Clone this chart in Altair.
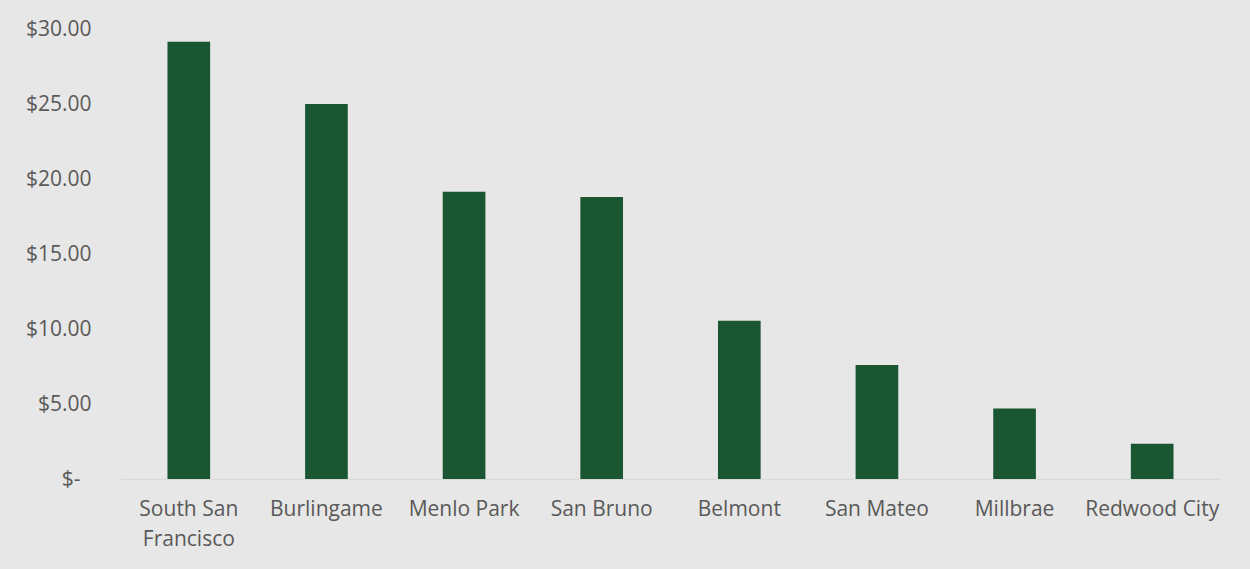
import altair as alt
import pandas as pd

cities = ["South San Francisco", "Burlingame", "Menlo Park", "San Bruno",
          "Belmont", "San Mateo", "Millbrae", "Redwood City"]
values = [29.15, 25.0, 19.15, 18.8, 10.55, 7.6, 4.7, 2.35]

df = pd.DataFrame({"city": cities, "value": values})

FONT = "Open Sans"
TXT = "#595959"

chart = alt.Chart(df).mark_bar(color="#1b5632").encode(
    x=alt.X("city:N", sort=cities, title=None,
            scale=alt.Scale(paddingInner=0.69, paddingOuter=0.345),
            axis=alt.Axis(labelAngle=0, ticks=False, domain=True,
                          domainColor="#d9d9d9", domainWidth=1.5,
                          labelFont=FONT, labelFontSize=21, labelColor=TXT,
                          labelPadding=19, labelLineHeight=30,
                          labelExpr="datum.label == 'South San Francisco' ? ['South San', 'Francisco'] : datum.label")),
    y=alt.Y("value:Q", title=None,
            scale=alt.Scale(domain=[0, 30], nice=False),
            axis=alt.Axis(values=[0, 5, 10, 15, 20, 25, 30], grid=False,
                          ticks=False, domain=False,
                          labelFont=FONT, labelFontSize=21, labelColor=TXT,
                          labelPadding={"condition": {"test": "datum.value == 0", "value": 40}, "value": 29},
                          labelExpr="datum.value == 0 ? '$-' : '$' + format(datum.value, '.2f')")),
).properties(
    width=1101, height=450,
    background="#e7e7e7",
    padding={"left": 120, "top": 29, "right": 29, "bottom": 90},
    autosize=alt.AutoSizeParams(type="none"),
).configure_view(stroke=None)

chart.save("out.html", embed_options={"renderer": "svg", "actions": False})
